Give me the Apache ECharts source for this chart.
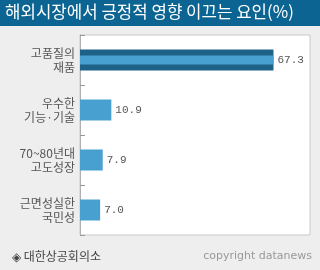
<!DOCTYPE html>
<html><head><meta charset="utf-8">
<script src="https://cdn.jsdelivr.net/npm/echarts@6/dist/echarts.min.js"></script>
<style>html,body{margin:0;padding:0;background:#eeeeee;}#c{width:320px;height:270px;}</style>
</head><body><div id="c"></div>
<script>
const titleText = '해외시장에서 긍정적 영향 이끄는 요인(%)';
const categories = ['고품질의\n재품', '우수한\n기능·기술', '70~80년대\n고도성장', '근면성실한\n국민성'];
const values = [67.3, 10.9, 7.9, 7.0];
const highlight = [67.3, null, null, null];
const sourceText = '◈ 대한상공회의소';
const copyrightText = 'copyright datanews';

const chart = echarts.init(document.getElementById('c'), null, {renderer: 'canvas'});
chart.setOption({
  backgroundColor: '#eeeeee',
  animation: false,
  graphic: [
    {type: 'rect', shape: {x: 0, y: 0, width: 320, height: 26}, style: {fill: '#0b6492'}, z: 0},
    {type: 'text', left: 5, top: 3, style: {text: titleText, fill: '#ffffff', font: '16.8px "Noto Sans CJK KR"'}},
    {type: 'text', left: 12, top: 250, style: {text: sourceText, fill: '#444444', font: '12px "Noto Sans CJK KR"'}},
    {type: 'text', right: 8, top: 251, style: {text: copyrightText, fill: '#999999', font: '11px "DejaVu Sans"'}}
  ],
  grid: {left: 80, top: 35, width: 230, height: 200, show: true, backgroundColor: '#ffffff', borderColor: '#c8c8c8', borderWidth: 1},
  xAxis: {type: 'value', min: 0, max: 80, show: false},
  yAxis: [
    {type: 'category', data: categories, inverse: true,
     axisLine: {show: true, lineStyle: {color: '#b0b0b0'}},
     axisTick: {show: true, inside: true, length: 5, lineStyle: {color: '#999999'}},
     axisLabel: {color: '#555555', fontSize: 12, lineHeight: 14, fontFamily: '"Noto Sans CJK KR"', margin: 5, align: 'right'}},
    {type: 'category', data: categories, inverse: true, show: false}
  ],
  series: [
    {type: 'bar', yAxisIndex: 0, data: values.map((v, i) => ({value: v, itemStyle: {color: i === 0 ? '#1f6289' : '#47a0d0'}})),
     barWidth: 21,
     label: {show: true, position: 'right', distance: 4, color: '#555555', fontSize: 11, fontFamily: '"Liberation Mono"',
             formatter: p => p.value.toFixed(1)}},
    {type: 'bar', yAxisIndex: 1, data: highlight, barWidth: 9, itemStyle: {color: '#47a0d0'}, z: 3}
  ]
});
</script></body></html>
